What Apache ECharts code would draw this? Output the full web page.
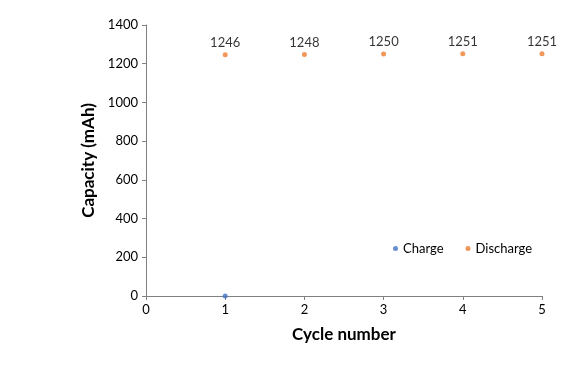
<!DOCTYPE html>
<html><head><meta charset="utf-8">
<script src="https://cdn.jsdelivr.net/npm/echarts@6/dist/echarts.min.js"></script>
<style>html,body{margin:0;padding:0;background:#fff}#c{width:580px;height:387px}</style>
</head><body><div id="c"></div>
<script>
const chargeCycles = [1];
const chargeValues = [0];
const dischargeCycles = [1, 2, 3, 4, 5];
const dischargeValues = [1246, 1248, 1250, 1251, 1251];
const xTicks = [0, 1, 2, 3, 4, 5];
const yTicks = [0, 200, 400, 600, 800, 1000, 1200, 1400];

const font = 'Lato';
const chart = echarts.init(document.getElementById('c'));
chart.setOption({
  animation: false,
  textStyle: {fontFamily: font},
  grid: {left: 146, right: 38, top: 25, bottom: 91},
  legend: {
    left: 388, top: 237, itemWidth: 5, itemHeight: 5, itemGap: 22,
    icon: 'circle',
    textStyle: {fontFamily: font, fontSize: 13, color: '#000'},
    data: ['Charge', 'Discharge']
  },
  xAxis: {
    type: 'value', min: 0, max: 5, interval: 1,
    name: 'Cycle number', nameLocation: 'middle', nameGap: 30,
    nameTextStyle: {fontFamily: font, fontSize: 17, fontWeight: 'bold', color: '#000'},
    axisLine: {lineStyle: {color: '#808080'}},
    axisTick: {show: true, length: 4, lineStyle: {color: '#808080'}},
    axisLabel: {color: '#000', fontSize: 13, fontFamily: font, margin: 7},
    splitLine: {show: false}
  },
  yAxis: {
    type: 'value', min: 0, max: 1400, interval: 200,
    name: 'Capacity (mAh)', nameLocation: 'middle', nameGap: 43,
    nameTextStyle: {fontFamily: font, fontSize: 17, fontWeight: 'bold', color: '#000'},
    axisLine: {show: true, lineStyle: {color: '#808080'}},
    axisTick: {show: true, length: 4, lineStyle: {color: '#808080'}},
    axisLabel: {color: '#000', fontSize: 13, fontFamily: font, margin: 8, formatter: v => String(v)},
    splitLine: {show: false}
  },
  series: [
    {
      name: 'Charge', type: 'scatter', symbolSize: 5,
      itemStyle: {color: '#4472c4'},
      data: chargeCycles.map((c, i) => [c, chargeValues[i]])
    },
    {
      name: 'Discharge', type: 'scatter', symbolSize: 5,
      itemStyle: {color: '#ed7d31'},
      label: {show: true, position: 'top', distance: 3, color: '#000', fontSize: 13, fontFamily: font,
        formatter: p => p.value[1]},
      data: dischargeCycles.map((c, i) => [c, dischargeValues[i]])
    }
  ]
});
</script></body></html>
